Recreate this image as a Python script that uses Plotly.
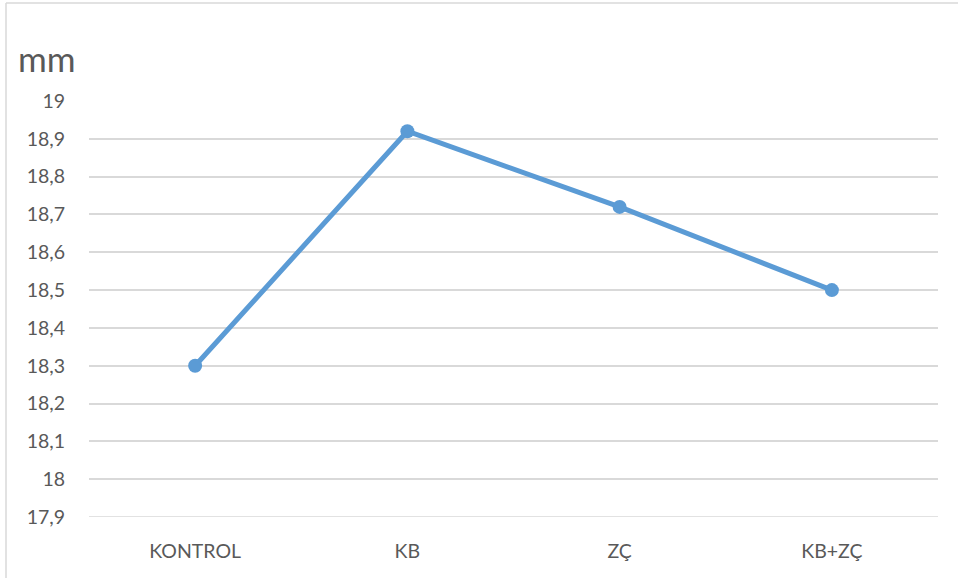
import plotly.graph_objects as go

categories = ["KONTROL", "KB", "ZÇ", "KB+ZÇ"]
values = [18.3, 18.92, 18.72, 18.5]
y_ticks = [17.9, 18.0, 18.1, 18.2, 18.3, 18.4, 18.5, 18.6, 18.7, 18.8, 18.9, 19.0]
y_tick_labels = ["17,9", "18", "18,1", "18,2", "18,3", "18,4", "18,5", "18,6", "18,7", "18,8", "18,9", "19"]
unit_label = "mm"

W, H = 958, 578
ML, MR, MT, MB = 89, 20, 101, 61
PW, PH = W - ML - MR, H - MT - MB

def px_x(x):
    return (x - ML) / PW

def px_y(y):
    return (H - MB - y) / PH

font_family = "Lato, 'Open Sans', sans-serif"
text_color = "#595959"
grid_color = "#d9d9d9"
line_color = "#5b9bd5"
tick_size = 19.5

fig = go.Figure()
fig.add_trace(go.Scatter(
    x=categories, y=values, mode="lines+markers",
    line=dict(color=line_color, width=5),
    marker=dict(color=line_color, size=14),
    showlegend=False, cliponaxis=False,
))

fig.update_layout(
    width=W, height=H,
    margin=dict(l=ML, r=MR, t=MT, b=MB),
    paper_bgcolor="white", plot_bgcolor="white",
    separators=",.",
    font=dict(family=font_family, color=text_color, size=tick_size),
    xaxis=dict(
        type="category", range=[-0.5, 3.5],
        showgrid=False, zeroline=False, showline=False,
        ticks="", ticklabelstandoff=20,
        tickfont=dict(size=tick_size, color=text_color),
    ),
    yaxis=dict(
        range=[17.9, 19.0], tickvals=y_ticks, ticktext=y_tick_labels,
        showgrid=True, gridcolor=grid_color, gridwidth=1.5,
        zeroline=False, showline=False, ticks="",
        ticklabelstandoff=23,
        tickfont=dict(size=tick_size, color=text_color),
    ),
    annotations=[dict(
        text=unit_label, xref="paper", yref="paper",
        x=px_x(16), y=px_y(58), xanchor="left", yanchor="middle",
        showarrow=False, font=dict(size=35, color=text_color, family=font_family),
    )],
    shapes=[
        dict(type="line", xref="paper", yref="paper",
             x0=px_x(6), x1=px_x(958), y0=px_y(3), y1=px_y(3),
             line=dict(color=grid_color, width=1.5)),
        dict(type="line", xref="paper", yref="paper",
             x0=px_x(6), x1=px_x(6), y0=px_y(3), y1=px_y(578),
             line=dict(color=grid_color, width=1.5)),
        dict(type="line", xref="paper", yref="y",
             x0=0, x1=1, y0=17.9, y1=17.9,
             line=dict(color=grid_color, width=1.5), layer="below"),
    ],
)

fig.write_html("out.html")
